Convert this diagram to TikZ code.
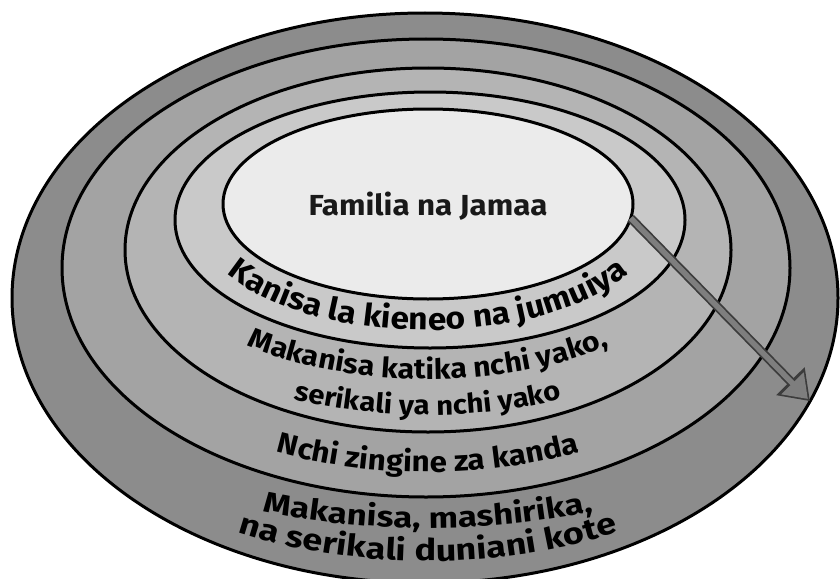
\documentclass[tikz,border=0pt]{standalone}
\usepackage{fontspec}
\newfontfamily\lab{Fira Sans}[FakeStretch=1.08]
\newfontfamily\labW{Fira Sans}[FakeStretch=1.2]
\usetikzlibrary{decorations.text,shapes.geometric,arrows.meta}
\definecolor{ringA}{HTML}{8C8C8C}
\definecolor{ringB}{HTML}{A3A3A3}
\definecolor{ringC}{HTML}{B4B4B4}
\definecolor{ringD}{HTML}{C9C9C9}
\definecolor{ringE}{HTML}{EBEBEB}
\definecolor{arrowdark}{HTML}{3C3C3C}
\definecolor{arrowgrey}{HTML}{7E7E7E}
\begin{document}
\begin{tikzpicture}[x=1pt,y=-1pt,
  ring/.style={ellipse, draw=black, line width=3pt, inner sep=0pt, outer sep=0pt},
  lbl/.style={font=\lab\bfseries\fontsize{#1}{#1}\selectfont, text=black!90}]
\useasboundingbox (0,0) rectangle (840,578);
\fill[white] (0,0) rectangle (840,578);
\node[ring, fill=ringA, minimum width=826pt, minimum height=570pt] (e1) at (425,298) {};
\node[ring, fill=ringB, minimum width=728pt, minimum height=458pt] (e2) at (426,268) {};
\node[ring, fill=ringC, minimum width=606pt, minimum height=364pt] (e3) at (428,250) {};
\node[ring, fill=ringD, minimum width=510pt, minimum height=256pt] (e4) at (430,220) {};
\node[ring, fill=ringE, minimum width=410pt, minimum height=190pt] (e5) at (428,204) {};
\node[lbl=29pt, anchor=base] (fam) at (428,215) {Familia na Jamaa};
% curved labels
\path[decorate, decoration={text along path, text align=center,
  text={|\lab\bfseries\fontsize{31pt}{31pt}\selectfont|Kanisa la kieneo na jumuiya}}]
  ([shift={(200:230pt and 110pt)}]428,220) arc[start angle=200, end angle=340, x radius=230pt, y radius=110pt];
\path[decorate, decoration={text along path, text align=center,
  text={|\lab\bfseries\fontsize{28pt}{28pt}\selectfont|Makanisa katika nchi yako{,}}}]
  ([shift={(210:270pt and 129pt)}]428,250) arc[start angle=210, end angle=330, x radius=270pt, y radius=129pt];
\path[decorate, decoration={text along path, text align=center,
  text={|\lab\bfseries\fontsize{27pt}{27pt}\selectfont|serikali ya nchi yako}}]
  ([shift={(225:312pt and 165pt)}]428,250) arc[start angle=225, end angle=315, x radius=312pt, y radius=165pt];
\path[decorate, decoration={text along path, text align=center,
  text={|\lab\bfseries\fontsize{29pt}{29pt}\selectfont|Nchi zingine za kanda}}]
  ([shift={(225:350pt and 204pt)}]428,268) arc[start angle=225, end angle=315, x radius=350pt, y radius=204pt];
\path[decorate, decoration={text along path, text align=center,
  text={|\labW\bfseries\fontsize{29pt}{29pt}\selectfont|Makanisa{,} mashirika{,}}}]
  ([shift={(230:440pt and 228pt)}]428,300) arc[start angle=230, end angle=310, x radius=440pt, y radius=228pt];
\path[decorate, decoration={text along path, text align=center,
  text={|\labW\bfseries\fontsize{30pt}{30pt}\selectfont|na serikali duniani kote}}]
  ([shift={(225:415pt and 261pt)}]428,300) arc[start angle=225, end angle=315, x radius=415pt, y radius=261pt];
% arrow
\draw[line width=9pt, draw=arrowdark, -{Triangle[length=28pt,width=38pt]}] (e5.-4) -- (e1.-15);
\draw[line width=5.5pt, draw=arrowgrey, shorten >=3pt, -{Triangle[length=22pt,width=30pt]}] (e5.-4) -- (e1.-15);
\end{tikzpicture}
\end{document}
